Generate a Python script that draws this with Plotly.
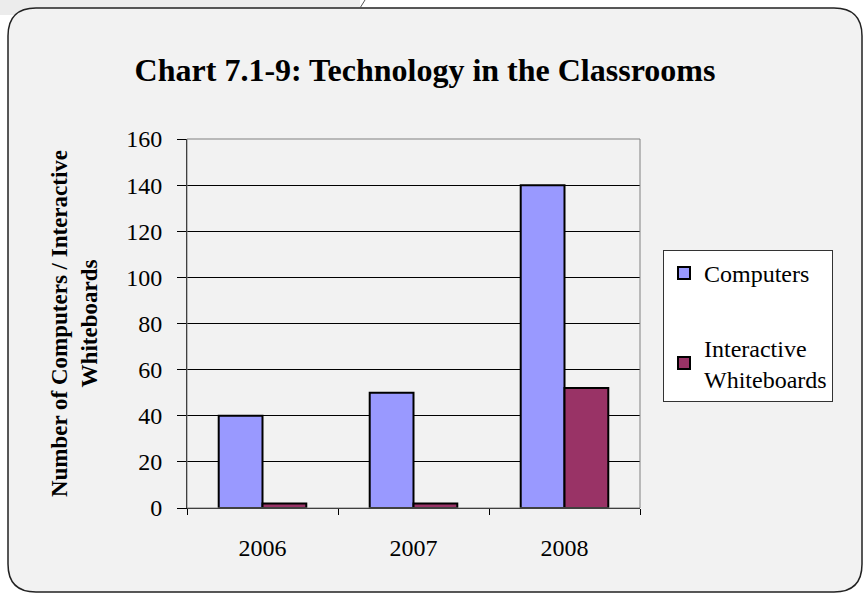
import plotly.graph_objects as go

years = ["2006", "2007", "2008"]
computers = [40, 50, 140]
whiteboards = [2, 2, 52]
series_names = ["Computers", "Interactive<br>Whiteboards"]
y_ticks = [0, 20, 40, 60, 80, 100, 120, 140, 160]

W, H = 866, 595
L, R, T, B = 187, 640, 139, 508

def px(x):
    return (x - L) / (R - L)

def py(y):
    return (B - y) / (B - T)

fig = go.Figure()
fig.add_trace(go.Bar(x=years, y=computers, name=series_names[0],
                     marker=dict(color="#9999ff", line=dict(color="#000000", width=2)),
                     legendgroup="a"))
fig.add_trace(go.Bar(x=years, y=whiteboards, name=series_names[1],
                     marker=dict(color="#993366", line=dict(color="#000000", width=2)),
                     legendgroup="b"))

# rounded chart area
x0, x1, y0, y1, r = 8, 862, 8, 592, 28
path = (f"M {px(x0+r)} {py(y0)} L {px(x1-r)} {py(y0)} "
        f"Q {px(x1)} {py(y0)} {px(x1)} {py(y0+r)} "
        f"L {px(x1)} {py(y1-r)} Q {px(x1)} {py(y1)} {px(x1-r)} {py(y1)} "
        f"L {px(x0+r)} {py(y1)} Q {px(x0)} {py(y1)} {px(x0)} {py(y1-r)} "
        f"L {px(x0)} {py(y0+r)} Q {px(x0)} {py(y0)} {px(x0+r)} {py(y0)} Z")

shapes = [
    dict(type="rect", xref="paper", yref="paper", x0=px(0), x1=px(360), y0=py(0), y1=py(15),
         fillcolor="#ececec", line=dict(width=0), layer="below"),
    dict(type="path", xref="paper", yref="paper", path=path, fillcolor="#f2f2f2",
         line=dict(color="#222222", width=1.5), layer="below"),
    dict(type="line", xref="paper", yref="paper", x0=px(360), x1=px(365), y0=py(8), y1=py(0),
         line=dict(color="#555555", width=1)),
    dict(type="rect", xref="paper", yref="paper", x0=0, x1=1, y0=0, y1=1,
         line=dict(color="#808080", width=1), layer="above"),
]

fig.update_layout(
    width=W, height=H,
    margin=dict(l=L, r=W - R, t=T, b=H - B),
    paper_bgcolor="#ffffff",
    plot_bgcolor="#c0c0c0",
    font=dict(family="Liberation Serif", color="#000000"),
    title=dict(text="<b>Chart 7.1-9: Technology in the Classrooms</b>",
               x=425 / W, xanchor="center", y=1 - 70 / H, yanchor="middle",
               font=dict(size=32, family="Liberation Serif")),
    barmode="group", bargap=0.42, bargroupgap=0,
    shapes=shapes,
    showlegend=True,
    legend=dict(x=px(663), y=py(250), xanchor="left", yanchor="top",
                bgcolor="#ffffff", bordercolor="#333333", borderwidth=1,
                font=dict(size=24, family="Liberation Serif"),
                tracegroupgap=40, itemwidth=30),
    xaxis=dict(type="category", tickson="boundaries", ticks="outside", ticklen=6,
               tickcolor="#000000", showline=True, linecolor="#000000", linewidth=1,
               tickfont=dict(size=24), showgrid=False, ticklabelstandoff=18),
    yaxis=dict(range=[0, 160], tickvals=y_ticks, ticks="outside", ticklen=9,
               tickcolor="#000000", showline=True, linecolor="#000000", linewidth=1,
               showgrid=True, gridcolor="#000000", gridwidth=1, zeroline=False,
               tickfont=dict(size=24), ticklabelstandoff=10,
               title=dict(text="<b>Number of Computers / Interactive<br>Whiteboards</b>",
                          font=dict(size=23), standoff=22)),
)

fig.write_html("out.html", config={"displayModeBar": False},
               post_script="document.body.style.margin='0';")
